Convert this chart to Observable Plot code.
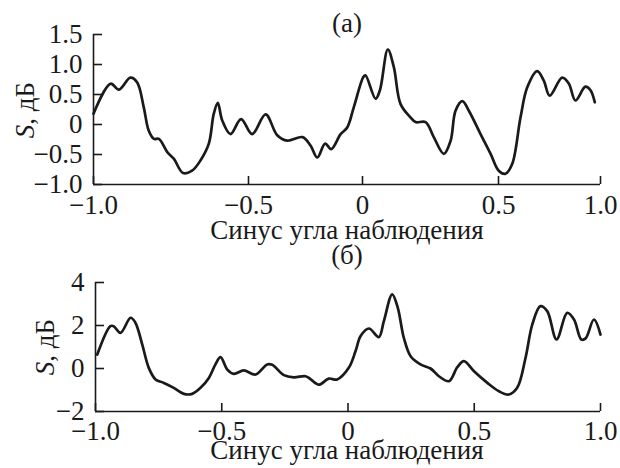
<!DOCTYPE html>
<html><head><meta charset="utf-8">
<script src="https://cdn.jsdelivr.net/npm/d3@7"></script>
<script src="https://cdn.jsdelivr.net/npm/@observablehq/plot@0.6"></script>
<style>
body{margin:0;background:#fff}
#wrap{position:relative;width:620px;height:468px;overflow:hidden}
#wrap svg{position:absolute;left:0}
#wrap svg text{font-family:"Liberation Serif","DejaVu Serif",serif !important}
</style></head><body><div id="wrap"></div>
<script>
// Panel (a)
const titleA = "(a)";
const xA = [-1.0,-0.945,-0.918,-0.881,-0.859,-0.838,-0.822,-0.805,-0.789,-0.762,-0.741,-0.711,-0.682,-0.655,-0.628,-0.612,-0.599,-0.585,-0.558,-0.524,-0.484,-0.425,-0.374,-0.330,-0.263,-0.228,-0.198,-0.164,-0.137,-0.096,-0.067,-0.038,0.003,0.011,0.048,0.064,0.093,0.115,0.140,0.176,0.195,0.232,0.262,0.299,0.324,0.342,0.367,0.391,0.434,0.471,0.501,0.534,0.567,0.608,0.641,0.690,0.722,0.751,0.812,0.845,0.877,0.926,0.951,0.972];
const sA = [0.18,0.68,0.58,0.78,0.70,0.29,-0.10,-0.24,-0.24,-0.46,-0.57,-0.81,-0.77,-0.60,-0.32,0.18,0.36,0.07,-0.16,0.09,-0.16,0.17,-0.18,-0.27,-0.21,-0.35,-0.55,-0.32,-0.41,-0.16,-0.05,0.29,0.79,0.82,0.43,0.57,1.25,0.96,0.34,0.12,0.04,0.04,-0.21,-0.49,-0.27,0.23,0.39,0.23,-0.16,-0.49,-0.77,-0.82,-0.66,0.12,0.62,0.89,0.73,0.48,0.78,0.68,0.40,0.63,0.57,0.37];
const yTicksA = [-1.0,-0.5,0,0.5,1.0,1.5];

// Panel (б)
const titleB = "(б)";
const xB = [-0.993,-0.941,-0.928,-0.901,-0.861,-0.842,-0.815,-0.789,-0.762,-0.729,-0.690,-0.650,-0.617,-0.584,-0.551,-0.525,-0.505,-0.478,-0.452,-0.413,-0.366,-0.320,-0.300,-0.254,-0.215,-0.168,-0.149,-0.115,-0.076,-0.043,0.003,0.030,0.050,0.083,0.122,0.142,0.175,0.197,0.221,0.248,0.287,0.327,0.360,0.400,0.433,0.459,0.499,0.552,0.598,0.637,0.670,0.703,0.730,0.762,0.789,0.826,0.868,0.895,0.924,0.941,0.974,1.0];
const sB = [0.65,1.97,1.97,1.66,2.36,2.13,1.12,0.03,-0.51,-0.67,-0.90,-1.18,-1.18,-0.90,-0.44,0.19,0.53,-0.05,-0.25,-0.09,-0.28,0.19,0.17,-0.31,-0.41,-0.36,-0.49,-0.75,-0.47,-0.51,0.03,0.81,1.51,1.86,1.46,2.2,3.45,2.83,1.43,0.57,0.19,0.0,-0.36,-0.59,0.06,0.34,-0.13,-0.67,-1.06,-1.21,-0.9,0.49,2.05,2.90,2.67,1.35,2.59,2.28,1.35,1.4,2.28,1.58];
const yTicksB = [-2,0,2,4];

const xTicks = [-1.0,-0.5,0,0.5,1.0];
const xLabel = "Синус угла наблюдения";
const yLabelVar = "S";
const yLabelUnit = ", дБ";

const FONT = '"Liberation Serif","DejaVu Serif",serif';
const FS = 27;
const INK = "#1a1a1a";

const fmt1 = d => d === 0 ? "0" : d.toFixed(1).replace("-", "\u2212");
const fmt0 = d => String(d).replace("-", "\u2212");

// panel (a) in the source has an unevenly stretched abscissa: piecewise-linear warp
const warpA = d3.scaleLinear([-1, -0.5, 0, 0.5, 1], [0, 155, 269, 405, 507]);

function panel({xs, ys, xScale, yDomain, yTicks, yFmt, height, marginTop, marginBottom, marginLeft, top, xPad, title, titleY, xLabelY, yLabelX, yLabelY}) {
  const data = xs.map((x, i) => ({x, s: ys[i]}));
  const svg = Plot.plot({
    width: 620, height, marginTop, marginBottom, marginLeft, marginRight: 20,
    style: {fontFamily: FONT, fontSize: FS + "px", color: INK, background: "transparent"},
    x: xScale,
    y: {domain: yDomain},
    marks: [
      Plot.ruleX([xTicks[0]], {stroke: INK, strokeWidth: 1.6}),
      Plot.ruleY([yDomain[0]], {stroke: INK, strokeWidth: 1.6}),
      Plot.axisY(yTicks, {tickSize: -9, tickPadding: 20, tickFormat: yFmt, label: null, fontSize: FS, strokeWidth: 1.6}),
      Plot.axisX(xTicks, {tickSize: -8, tickPadding: xPad, tickFormat: fmt1, label: null, fontSize: FS, strokeWidth: 1.6}),
      Plot.line(data, {x: "x", y: "s", curve: "catmull-rom", stroke: INK, strokeWidth: 2.7, strokeLinejoin: "round"})
    ]
  });
  svg.style.top = top + "px";
  const g = d3.select(svg);
  g.append("text").attr("x", 347).attr("y", titleY).attr("text-anchor", "middle")
    .attr("font-family", FONT).attr("font-size", FS).attr("fill", INK).text(title);
  g.append("text").attr("x", 347).attr("y", xLabelY).attr("text-anchor", "middle")
    .attr("font-family", FONT).attr("font-size", FS).attr("fill", INK).text(xLabel);
  const yl = g.append("text").attr("transform", `translate(${yLabelX},${yLabelY}) rotate(-90)`)
    .attr("text-anchor", "middle").attr("font-family", FONT).attr("font-size", FS).attr("fill", INK);
  yl.append("tspan").attr("font-style", "italic").text(yLabelVar);
  yl.append("tspan").text(yLabelUnit);
  document.getElementById("wrap").appendChild(svg);
}

panel({
  xs: xA, ys: sA,
  xScale: {transform: warpA, domain: [0, 507]},
  yDomain: [-1, 1.5], yTicks: yTicksA, yFmt: fmt1,
  height: 250, marginTop: 34, marginBottom: 66, marginLeft: 93, top: 0, xPad: 18,
  title: titleA, titleY: 32, xLabelY: 239, yLabelX: 34, yLabelY: 110
});
panel({
  xs: xB, ys: sB,
  xScale: {domain: [-1, 1]},
  yDomain: [-2, 4], yTicks: yTicksB, yFmt: fmt0,
  height: 238, marginTop: 52, marginBottom: 57, marginLeft: 95, top: 230, xPad: 17,
  title: titleB, titleY: 34, xLabelY: 229, yLabelX: 54, yLabelY: 117
});
</script></body></html>
